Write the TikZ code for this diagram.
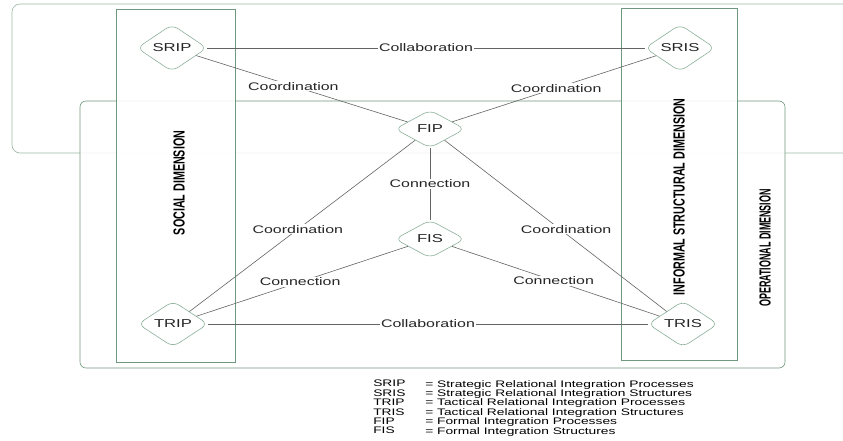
\documentclass[tikz,border=0pt]{standalone}
\usepackage{fontspec}
\setmainfont{Liberation Sans}[FakeStretch=1.45]
\newfontfamily\dimfont{Liberation Sans}[FakeStretch=0.67]
\newfontfamily\dimfontnarrow{Liberation Sans}[FakeStretch=0.56]
\usetikzlibrary{shapes.geometric}

\definecolor{framegreen}{RGB}{112,152,126}
\definecolor{boxgreen}{RGB}{140,176,154}
\definecolor{linegray}{RGB}{100,100,100}

\tikzset{
  proc/.style = {diamond, draw=boxgreen, fill=white, rounded corners=7pt,
    minimum width=70pt, minimum height=38pt, inner sep=0pt, text=black!85,
    font=\fontsize{11.5}{12}\selectfont},
  lbl/.style = {fill=white, inner sep=1pt, text=black!85, font=\fontsize{11}{12}\selectfont},
  dimlabel/.style = {rotate=90, font=\dimfont\bfseries\fontsize{16}{17}\selectfont},
  legendtext/.style = {anchor=north west, inner sep=0pt, align=left,
    font=\fontsize{9.5}{9.4}\selectfont}
}

\begin{document}
\begin{tikzpicture}[x=1pt, y=-1pt, line width=0.6pt]
    \useasboundingbox (0,0) rectangle (843,441);

    % strategic frame, open to the right
    \draw[framegreen!70, rounded corners=8pt] (843,4) -- (12,4) -- (12,153) -- (843,153);
    % operational frame
    \draw[framegreen, fill=white, fill opacity=0.85, rounded corners=6pt] (80,101) rectangle (785,368);
    % social and informal structural columns
    \draw[framegreen, fill=white, fill opacity=0.9] (116,9) rectangle (235,362);
    \draw[framegreen, fill=white, fill opacity=0.9] (621,8) rectangle (737,360);

    \node[dimlabel] (social) at (179,183) {SOCIAL DIMENSION};
    \node[dimlabel] (informal) at (679,197) {INFORMAL STRUCTURAL DIMENSION};
    \node[dimlabel, font=\dimfontnarrow\bfseries\fontsize{16}{17}\selectfont] (operational) at (765,248) {OPERATIONAL DIMENSION};

    \node[proc] (srip) at (172,48) {SRIP};
    \node[proc] (sris) at (680,48) {SRIS};
    \node[proc] (fip) at (430,129) {FIP};
    \node[proc] (fis) at (430,239) {FIS};
    \node[proc] (trip) at (173,324) {TRIP};
    \node[proc] (tris) at (683,324) {TRIS};

    \draw[linegray] (srip) -- node[lbl] {Collaboration} (sris);
    \draw[linegray] (srip) -- node[lbl, pos=0.46] {Coordination} (fip);
    \draw[linegray] (sris) -- node[lbl, pos=0.49] {Coordination} (fip);
    \draw[linegray] (fip) -- node[lbl] {Connection} (fis);
    \draw[linegray] (fip) -- node[lbl, pos=0.52] {Coordination} (trip);
    \draw[linegray] (fip) -- node[lbl, pos=0.52, xshift=6pt] {Coordination} (tris);
    \draw[linegray] (fis) -- node[lbl, pos=0.51] {Connection} (trip);
    \draw[linegray] (fis) -- node[lbl, pos=0.49] {Connection} (tris);
    \draw[linegray] (trip) -- node[lbl] {Collaboration} (tris);

    % legend
    \node[legendtext] (abbr) at (373,380) {SRIP\\SRIS\\TRIP\\TRIS\\FIP\\FIS};
    \node[legendtext] (meaning) at (425,380) {= Strategic Relational Integration Processes\\
      = Strategic Relational Integration Structures\\
      = Tactical Relational Integration Processes\\
      = Tactical Relational Integration Structures\\
      = Formal Integration Processes\\
      = Formal Integration Structures};

\end{tikzpicture}
\end{document}
